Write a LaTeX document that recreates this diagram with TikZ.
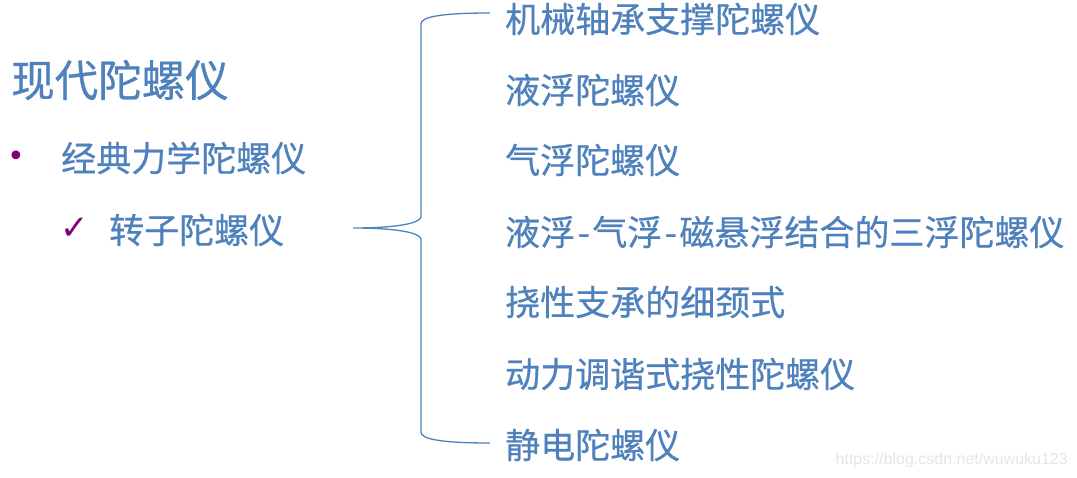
\documentclass[tikz,border=0pt]{standalone}
\usepackage{fontspec}
\setmainfont{Noto Sans CJK SC}
\newfontfamily\cjk[BoldFont=Noto Sans CJK SC, BoldFeatures={FakeBold=0.6}]{Noto Sans CJK SC}
\newfontfamily\sym{DejaVu Sans}
\newfontfamily\wm{Liberation Sans}
\definecolor{txtblue}{RGB}{79,129,189}
\definecolor{bulpurple}{RGB}{128,0,128}
\tikzset{
  item/.style={anchor=west, inner sep=0pt, text=txtblue, font=\cjk\bfseries\fontsize{35}{35}\selectfont},
  titlebox/.style={anchor=west, inner sep=0pt, text=txtblue, font=\cjk\bfseries\fontsize{43.5}{43.5}\selectfont},
  bulletbox/.style={anchor=center, inner sep=0pt, text=bulpurple},
  brace/.style={draw=txtblue, line width=1.3pt},
}
\newcommand{\dsh}{\kern2.5pt-\kern2.5pt}
\begin{document}
\begin{tikzpicture}[x=1pt,y=-1pt]
\useasboundingbox (0,0) rectangle (1077,478);
\node[titlebox] (t) at (11,80) {现代陀螺仪};
\node[bulletbox, font=\sym\fontsize{30}{30}\selectfont] (b1) at (16,159) {•};
\node[item] (l1) at (61,158) {经典力学陀螺仪};
\node[bulletbox, font=\sym\fontsize{34}{34}\selectfont] (b2) at (75,229) {✓};
\node[item] (l2) at (109,230) {转子陀螺仪};
\coordinate (tip) at (353,228);
\coordinate (top) at (490,13);
\coordinate (bot) at (490,443);
\draw[brace] (top) .. controls (440,13) and (421,17) .. (421,24)
  -- (421,216) .. controls (421,226) and (380,228) .. (tip)
  (tip) .. controls (380,228) and (421,230) .. (421,240)
  -- (421,432) .. controls (421,439) and (440,443) .. (bot);
\node[item] (r1) at (505,19) {机械轴承支撑陀螺仪};
\node[item] (r2) at (505,90) {液浮陀螺仪};
\node[item] (r3) at (505,160) {气浮陀螺仪};
\node[item] (r4) at (505,232) {液浮\dsh 气浮\dsh 磁悬浮结合的三浮陀螺仪};
\node[item] (r5) at (505,302) {挠性支承的细颈式};
\node[item] (r6) at (505,374) {动力调谐式挠性陀螺仪};
\node[item] (r7) at (505,445) {静电陀螺仪};
\node[anchor=east, inner sep=0pt, text=black!10, font=\wm\fontsize{16}{16}\selectfont] (w) at (1068,460) {https://blog.csdn.net/wuwuku123};
\end{tikzpicture}
\end{document}
